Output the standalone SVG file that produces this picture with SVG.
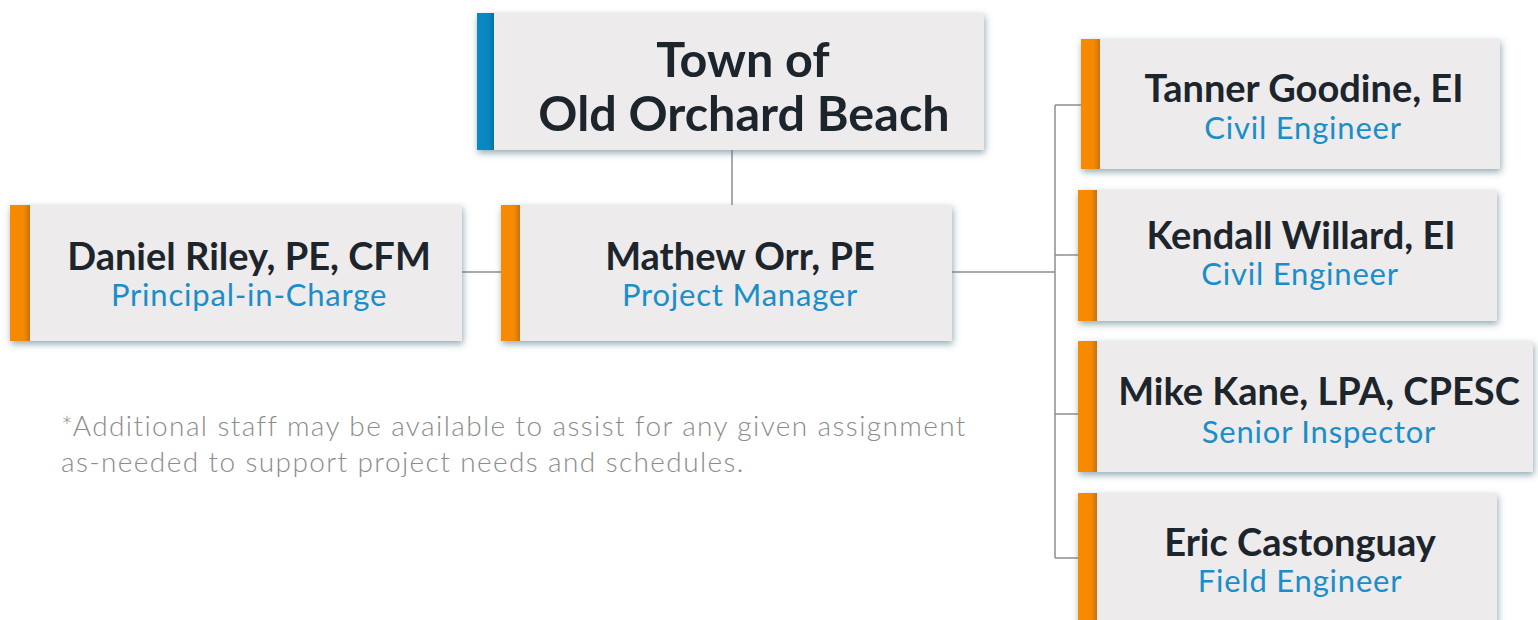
<svg xmlns="http://www.w3.org/2000/svg" width="1538" height="620" viewBox="0 0 1538 620">
  <defs>
    <filter id="shadow" x="-10%" y="-20%" width="120%" height="150%">
      <feDropShadow dx="1" dy="3" stdDeviation="3.5" flood-color="#4a7282" flood-opacity="0.6"/>
    </filter>
    <linearGradient id="orangeBar" x1="0" y1="0" x2="1" y2="0">
      <stop offset="0" stop-color="#f88a00"/>
      <stop offset="0.7" stop-color="#f58900"/>
      <stop offset="1" stop-color="#c47214"/>
    </linearGradient>
    <linearGradient id="blueBar" x1="0" y1="0" x2="1" y2="0">
      <stop offset="0" stop-color="#0a88c2"/>
      <stop offset="0.7" stop-color="#0886bf"/>
      <stop offset="1" stop-color="#0a6f9c"/>
    </linearGradient>
    <style>
      .card { fill: #edebec; filter: url(#shadow); }
      .bar-o { fill: url(#orangeBar); }
      .bar-b { fill: url(#blueBar); }
      .title { font-family: Lato, "Liberation Sans", sans-serif; font-weight: 700; font-size: 48.5px; fill: #1d252c; text-anchor: middle; }
      .name { font-family: Lato, "Liberation Sans", sans-serif; font-weight: 700; font-size: 38px; fill: #1d252c; text-anchor: middle; }
      .role { font-family: Lato, "Liberation Sans", sans-serif; font-weight: 400; font-size: 31px; letter-spacing: 0.8px; fill: #1a8ec8; text-anchor: middle; }
      .note { font-family: Lato, "Liberation Sans", sans-serif; font-weight: 300; font-size: 28px; letter-spacing: 1.4px; fill: #8c8c8c; }
      .link { fill: none; stroke: #8a8f93; stroke-width: 1.5; }
    </style>
  </defs>

  <rect width="1538" height="620" fill="#ffffff"/>

  <!-- connectors -->
  <g id="connectors">
    <path class="link" d="M732 150 V205"/>
    <path class="link" d="M462 272 H501"/>
    <path class="link" d="M952 272 H1055"/>
    <path class="link" d="M1055 105 V558"/>
    <path class="link" d="M1055 105 H1081"/>
    <path class="link" d="M1055 255 H1078"/>
    <path class="link" d="M1055 414 H1078"/>
    <path class="link" d="M1055 558 H1078"/>
  </g>

  <g id="town">
    <rect class="card" x="477" y="13" width="507" height="137"/>
    <rect class="bar-b" x="477" y="13" width="17" height="137"/>
    <text class="title" x="743" y="77">Town of</text>
    <text class="title" x="744" y="131">Old Orchard Beach</text>
  </g>

  <g id="daniel">
    <rect class="card" x="10" y="205" width="452" height="136"/>
    <rect class="bar-o" x="10" y="205" width="20" height="136"/>
    <text class="name" x="249" y="270">Daniel Riley, PE, CFM</text>
    <text class="role" x="249" y="306">Principal-in-Charge</text>
  </g>

  <g id="mathew">
    <rect class="card" x="501" y="205" width="451" height="136"/>
    <rect class="bar-o" x="501" y="205" width="19" height="136"/>
    <text class="name" x="740" y="270">Mathew Orr, PE</text>
    <text class="role" x="740" y="306">Project Manager</text>
  </g>

  <g id="tanner">
    <rect class="card" x="1081" y="39" width="419" height="130"/>
    <rect class="bar-o" x="1081" y="39" width="19" height="130"/>
    <text class="name" x="1304" y="102">Tanner Goodine, EI</text>
    <text class="role" x="1303" y="139">Civil Engineer</text>
  </g>

  <g id="kendall">
    <rect class="card" x="1078" y="190" width="419" height="131"/>
    <rect class="bar-o" x="1078" y="190" width="19" height="131"/>
    <text class="name" x="1301" y="249">Kendall Willard, EI</text>
    <text class="role" x="1300" y="285">Civil Engineer</text>
  </g>

  <g id="mike">
    <rect class="card" x="1078" y="341" width="455" height="131"/>
    <rect class="bar-o" x="1078" y="341" width="19" height="131"/>
    <text class="name" x="1319" y="405">Mike Kane, LPA, CPESC</text>
    <text class="role" x="1319" y="443">Senior Inspector</text>
  </g>

  <g id="eric">
    <rect class="card" x="1078" y="493" width="419" height="140"/>
    <rect class="bar-o" x="1078" y="493" width="19" height="140"/>
    <text class="name" x="1300" y="556">Eric Castonguay</text>
    <text class="role" x="1300" y="592">Field Engineer</text>
  </g>

  <g id="footnote">
    <text class="note" x="61" y="436">*Additional staff may be available to assist for any given assignment</text>
    <text class="note" x="61" y="472">as-needed to support project needs and schedules.</text>
  </g>
</svg>
